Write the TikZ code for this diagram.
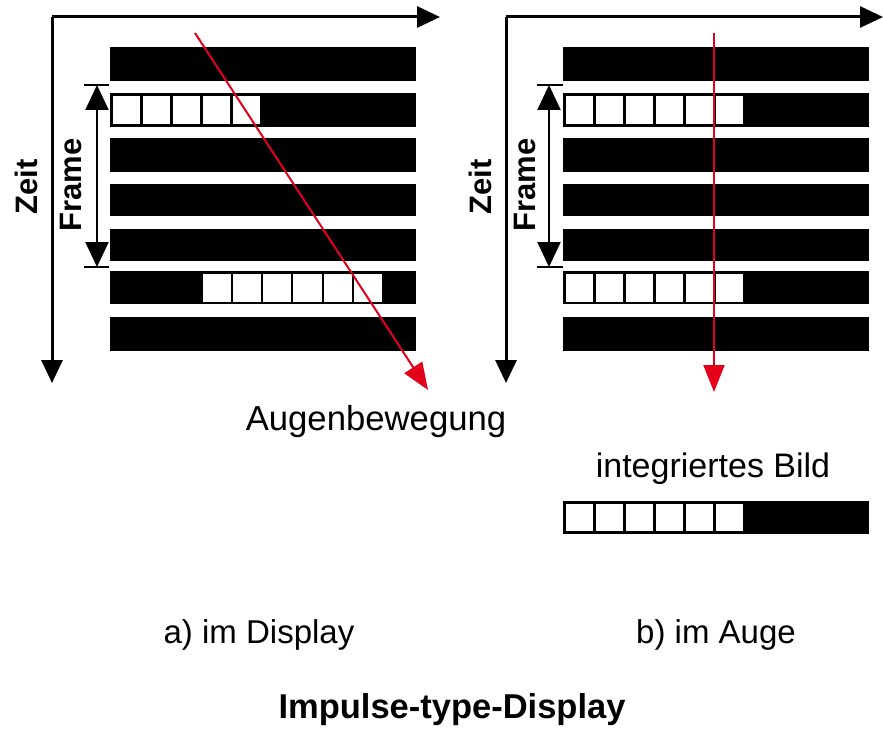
\documentclass[tikz,border=0pt]{standalone}
\usepackage{fontspec}
\setmainfont{Liberation Sans}
\usetikzlibrary{arrows.meta}
\definecolor{eyered}{HTML}{E2001A}
\tikzset{
  axisline/.style={line width=3pt, -{Triangle[length=23pt,width=21pt]}},
  dimline/.style={line width=2.3pt, {Triangle[length=25pt,width=23pt]}-{Triangle[length=25pt,width=23pt]}},
  tickline/.style={line width=2.5pt},
  redarrow/.style={eyered, line width=2pt, -{Triangle[length=27pt,width=21pt]}},
  lbl/.style={font=\fontsize{33}{40}\selectfont, inner sep=0pt, anchor=base},
  rotlbl/.style={font=\bfseries\fontsize{31}{38}\selectfont, inner sep=0pt, rotate=90},
}
\begin{document}
\begin{tikzpicture}[x=1pt,y=-1pt]
\useasboundingbox (0,0) rectangle (883,730);
% bars
\foreach \t/\b in {47.3/80.7, 93.3/126.7, 138.3/171.7, 184/215.5, 229.3/260.5, 271/304.3, 317.3/350.7}{
  \fill (110,\t) rectangle (416,\b);
  \fill (563,\t) rectangle (869,\b);
}
% cells left, frame 1
\foreach \k in {0,...,4}{
  \fill[white] ({112.6+30*\k},96) rectangle ({140.2+30*\k},124);
}
% cells left, frame 2
\foreach \k in {0,...,5}{
  \fill[white] ({202.7+30.2*\k},274) rectangle ({231+30.2*\k},302.3);
}
% cells right, both frames
\foreach \k in {0,...,5}{
  \fill[white] ({565.5+30*\k},96) rectangle ({593.2+30*\k},124);
  \fill[white] ({565.5+30*\k},274) rectangle ({593.2+30*\k},302.3);
}
% integrated image bar
\fill (563,501) rectangle (869,534);
\foreach \k in {0,...,5}{
  \fill[white] ({565.5+30*\k},503.8) rectangle ({593.2+30*\k},531.2);
}
% axes
\coordinate (oL) at (52,17);
\coordinate (xL) at (440,17);
\coordinate (yL) at (52,383);
\draw[axisline] (oL) -- (xL);
\draw[axisline] (oL) -- (yL);
\coordinate (oR) at (506,17);
\coordinate (xR) at (883,17);
\coordinate (yR) at (506,383);
\draw[axisline] (oR) -- (xR);
\draw[axisline] (oR) -- (yR);
% frame dimension
\coordinate (ftL) at (97,85);
\coordinate (fbL) at (97,267);
\draw[tickline] (84,85) -- (109,85);
\draw[tickline] (84,267) -- (109,267);
\draw[dimline] (ftL) -- (fbL);
\coordinate (ftR) at (549,85);
\coordinate (fbR) at (549,267);
\draw[tickline] (537,85) -- (563,85);
\draw[tickline] (537,267) -- (563,267);
\draw[dimline] (ftR) -- (fbR);
% rotated labels
\node[rotlbl] (zeitL) at (26,187) {Zeit};
\node[rotlbl] (frameL) at (71,185) {Frame};
\node[rotlbl] (zeitR) at (480,187) {Zeit};
\node[rotlbl] (frameR) at (525,185) {Frame};
% eye movement arrows
\coordinate (eL0) at (195,33);
\coordinate (eL1) at (428,390);
\draw[redarrow] (eL0) -- (eL1);
\coordinate (eR0) at (714,33);
\coordinate (eR1) at (714,392);
\draw[redarrow] (eR0) -- (eR1);
% texts
\node[lbl, font=\fontsize{34.7}{40}\selectfont] (aug) at (376,430) {Augenbewegung};
\node[lbl, font=\fontsize{34}{40}\selectfont] (integ) at (713,477) {integriertes Bild};
\node[lbl] (capa) at (259,643) {a) im Display};
\node[lbl] (capb) at (716,643) {b) im Auge};
\node[font=\bfseries\fontsize{34.5}{40}\selectfont, inner sep=0pt, anchor=base] (title) at (452,718) {Impulse-type-Display};
\end{tikzpicture}
\end{document}
